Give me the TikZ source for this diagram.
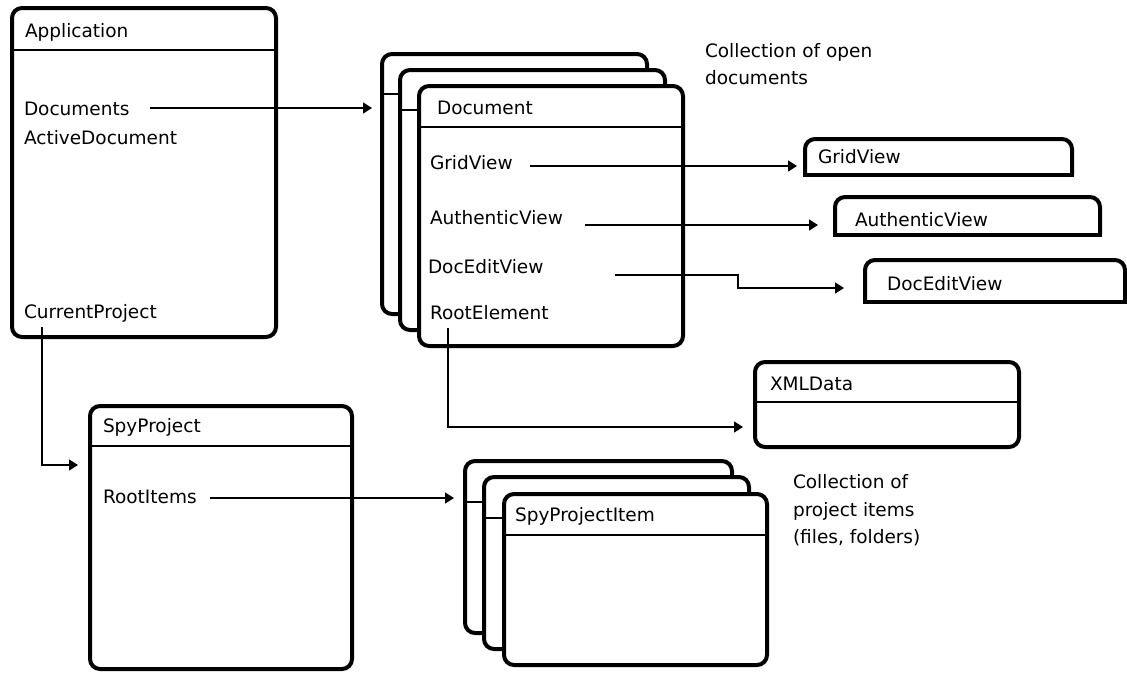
\documentclass[tikz,border=0pt]{standalone}
\usepackage{fontspec}
\setmainfont{DejaVu Sans}
\usetikzlibrary{arrows.meta}
\newcommand\dfnt{\fontsize{18.5}{22}\selectfont}
\begin{document}
\begin{tikzpicture}[x=1pt,y=-1pt,
  box/.style={draw, line width=4pt, rounded corners=10pt, fill=white, inner sep=0pt, outer sep=0pt, anchor=north west},
  tabbox/.style={inner sep=0pt, outer sep=0pt, anchor=north west},
  tabtop/.style={line width=4pt, rounded corners=10pt},
  tabbot/.style={line width=4pt, line cap=rect},
  hdr/.style={line width=2pt},
  lbl/.style={anchor=base west, inner sep=0pt, outer sep=0pt, font=\dfnt},
  arr/.style={line width=1.5pt, -{Triangle[length=9pt,width=11pt]}},
]
\useasboundingbox (0,0) rectangle (1127,673);

% Application
\node[box, minimum width=264pt, minimum height=329pt] (app) at (12,8) {};
\draw[hdr] (app.west |- 0,50) -- (app.east |- 0,50);
\node[lbl] (appT) at (25,37) {Application};
\node[lbl] (iDocs) at (24,115) {Documents};
\node[lbl] (iActive) at (24,144) {ActiveDocument};
\node[lbl] (iCur) at (24,318) {CurrentProject};

% Document stack
\node[box, minimum width=265pt, minimum height=260pt] (doc1) at (382,54) {};
\draw[hdr] (doc1.west |- 0,94) -- (doc1.east |- 0,94);
\node[box, minimum width=265pt, minimum height=260pt] (doc2) at (400,70) {};
\draw[hdr] (doc2.west |- 0,110) -- (doc2.east |- 0,110);
\node[box, minimum width=264pt, minimum height=260pt] (doc3) at (419,86) {};
\draw[hdr] (doc3.west |- 0,127) -- (doc3.east |- 0,127);
\node[lbl] (docT) at (437,114) {Document};
\node[lbl] (iGrid) at (430,169) {GridView};
\node[lbl] (iAuth) at (430,224) {AuthenticView};
\node[lbl] (iDE) at (428,273) {DocEditView};
\node[lbl] (iRoot) at (430,319) {RootElement};

\node[lbl] (n1a) at (705,57) {Collection of open};
\node[lbl] (n1b) at (705,84) {documents};

% View tabs
\node[tabbox, minimum width=267pt, minimum height=36pt] (gridbox) at (805,139) {};
\draw[tabtop] (gridbox.south west) -- (gridbox.north west) -- (gridbox.north east) -- (gridbox.south east);
\draw[tabbot] (gridbox.south west) -- (gridbox.south east);
\node[lbl] (gridT) at (818,163) {GridView};

\node[tabbox, minimum width=265pt, minimum height=38pt] (authbox) at (835,197) {};
\draw[tabtop] (authbox.south west) -- (authbox.north west) -- (authbox.north east) -- (authbox.south east);
\draw[tabbot] (authbox.south west) -- (authbox.south east);
\node[lbl] (authT) at (855,226) {AuthenticView};

\node[tabbox, minimum width=260pt, minimum height=42pt] (debox) at (865,260) {};
\draw[tabtop] (debox.south west) -- (debox.north west) -- (debox.north east) -- (debox.south east);
\draw[tabbot] (debox.south west) -- (debox.south east);
\node[lbl] (deT) at (887,290) {DocEditView};

% XMLData
\node[box, minimum width=264pt, minimum height=85pt] (xml) at (755,362) {};
\draw[hdr] (xml.west |- 0,402) -- (xml.east |- 0,402);
\node[lbl] (xmlT) at (770,390) {XMLData};

% SpyProject
\node[box, minimum width=262pt, minimum height=263pt] (spy) at (90,406) {};
\draw[hdr] (spy.west |- 0,446) -- (spy.east |- 0,446);
\node[lbl] (spyT) at (103,432) {SpyProject};
\node[lbl] (iRI) at (103,503) {RootItems};

% SpyProjectItem stack
\node[box, minimum width=267pt, minimum height=172pt] (spi1) at (465,461) {};
\draw[hdr] (spi1.west |- 0,502) -- (spi1.east |- 0,502);
\node[box, minimum width=265pt, minimum height=172pt] (spi2) at (484,477) {};
\draw[hdr] (spi2.west |- 0,518) -- (spi2.east |- 0,518);
\node[box, minimum width=263pt, minimum height=171pt] (spi3) at (504,494) {};
\draw[hdr] (spi3.west |- 0,535) -- (spi3.east |- 0,535);
\node[lbl] (spiT) at (515,521) {SpyProjectItem};

\node[lbl] (n2a) at (793,488) {Collection of};
\node[lbl] (n2b) at (793,516) {project items};
\node[lbl] (n2c) at (793,543) {(files, folders)};

% Connectors
\coordinate (aDocs) at (150,108);
\draw[arr, shorten >=10pt] (aDocs) -- (aDocs -| doc1.west);
\coordinate (aGrid) at (530,166);
\draw[arr, shorten >=8pt] (aGrid) -- (aGrid -| gridbox.west);
\coordinate (aAuth) at (585,225);
\draw[arr, shorten >=17pt] (aAuth) -- (aAuth -| authbox.west);
\coordinate (aDE) at (615,275);
\coordinate (aDEk) at (738,288);
\draw[arr, shorten >=21pt] (aDE) -| (aDEk) -- (aDEk -| debox.west);
\coordinate (aRoot) at (448,328);
\draw[arr, shorten >=12pt] (aRoot) |- (xml.west |- 0,427);
\coordinate (aCur) at (42,327);
\draw[arr, shorten >=12pt] (aCur) |- (spy.west |- 0,465);
\coordinate (aRI) at (210,498);
\draw[arr, shorten >=11pt] (aRI) -- (aRI -| spi1.west);
\end{tikzpicture}
\end{document}
